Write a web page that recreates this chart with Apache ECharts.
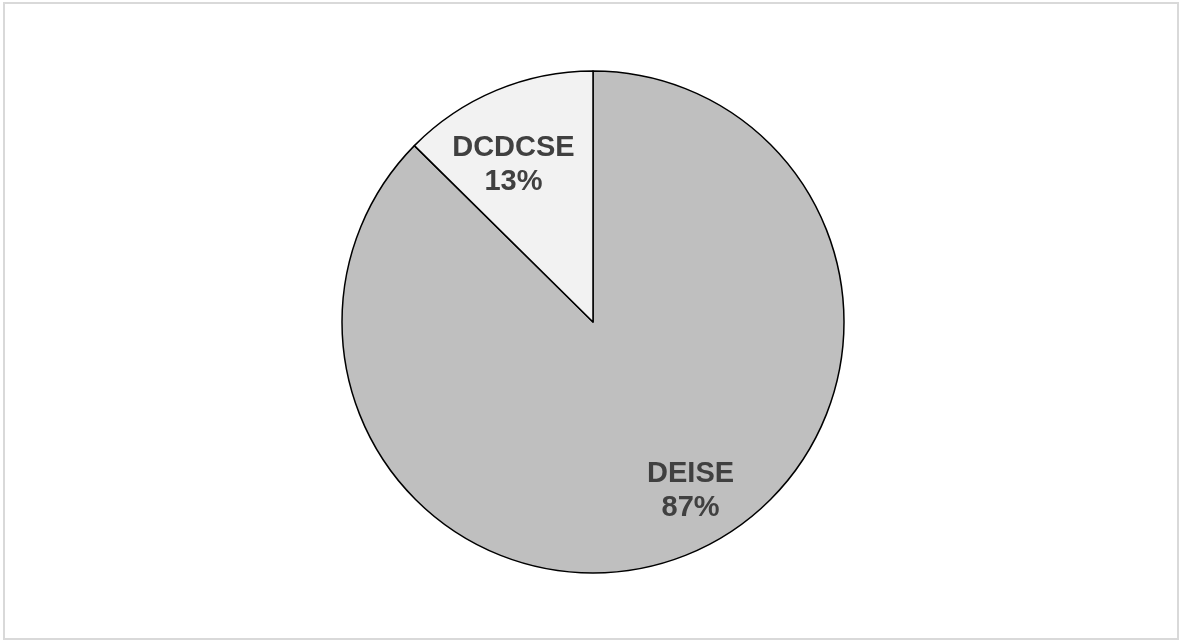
<!DOCTYPE html>
<html>
<head>
<meta charset="utf-8">
<script src="https://cdn.jsdelivr.net/npm/echarts@6/dist/echarts.min.js"></script>
<style>
  html, body { margin: 0; padding: 0; background: #fff; }
  #chart { width: 1180px; height: 641px; }
  #frame { position: absolute; left: 3px; top: 2px; width: 1172px; height: 634px; border: 2px solid #d9d9d9; pointer-events: none; }
</style>
</head>
<body>
<div id="chart"></div>
<div id="frame"></div>
<script>
const categories = ['DEISE', 'DCDCSE']
const values = [87.4, 12.6]
const colors = ['#bfbfbf', '#f2f2f2']
// nudges so the labels sit where the original placed them
const labelNudge = [[27, 0], [-9, 12]]

const chart = echarts.init(document.getElementById('chart'), null, { renderer: 'canvas' })

const sliceData = categories.map((name, i) => ({
  name,
  value: values[i],
  itemStyle: { color: colors[i] }
}))

// transparent ring carries the labels further out than 'inside' would
const labelData = categories.map((name, i) => ({
  name,
  value: values[i],
  itemStyle: { color: 'rgba(0,0,0,0)', borderWidth: 0 }
}))

const option = {
  animation: false,
  series: [
    {
      type: 'pie',
      center: [593, 322],
      radius: [0, 251],
      startAngle: 90,
      clockwise: true,
      silent: true,
      label: { show: false },
      labelLine: { show: false },
      itemStyle: { borderColor: '#000', borderWidth: 1.5 },
      data: sliceData
    },
    {
      type: 'pie',
      center: [593, 322],
      radius: [109, 251],
      startAngle: 90,
      clockwise: true,
      silent: true,
      percentPrecision: 0,
      label: {
        show: true,
        position: 'inside',
        formatter: '{b}\n{d}%',
        fontFamily: 'Liberation Sans, Arial, sans-serif',
        fontWeight: 'bold',
        fontSize: 29,
        lineHeight: 34,
        color: '#404040'
      },
      labelLayout(params) {
        const n = labelNudge[params.dataIndex]
        return { dx: n[0], dy: n[1] }
      },
      labelLine: { show: false },
      data: labelData
    }
  ]
}

chart.setOption(option)
</script>
</body>
</html>
